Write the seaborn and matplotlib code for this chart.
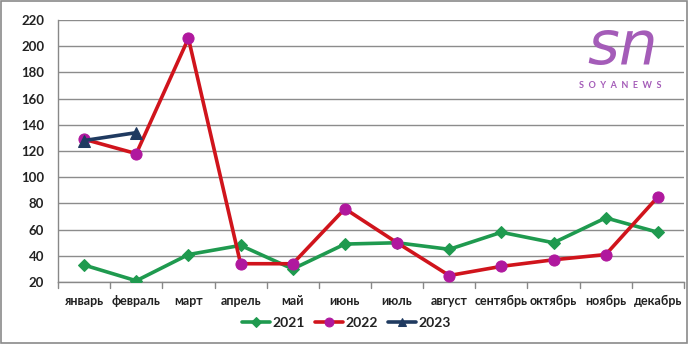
import matplotlib
matplotlib.use("Agg")
import matplotlib.pyplot as plt
from matplotlib.patches import Rectangle
import seaborn as sns
import pandas as pd

months = ["январь", "февраль", "март", "апрель", "май", "июнь",
          "июль", "август", "сентябрь", "октябрь", "ноябрь", "декабрь"]
v2021 = [33, 21, 41, 48, 30, 49, 50, 45, 58, 50, 69, 58]
v2022 = [129, 118, 206, 34, 34, 76, 50, 25, 32, 37, 41, 85]
v2023 = [128, 134]
y_ticks = [20, 40, 60, 80, 100, 120, 140, 160, 180, 200, 220]

sns.set_theme(style="white")
plt.rcParams["font.family"] = ["Lato", "DejaVu Sans"]

fig = plt.figure(figsize=(6.89, 3.44), dpi=100)
ax = fig.add_axes([0.0842, 0.180, 0.9085, 0.762])

series = [
    ("2021", v2021, "#1f9a4f", "#1f9a4f", "D", 6),
    ("2022", v2022, "#d0141c", "#b0189e", "o", 8),
    ("2023", v2023, "#1f3a60", "#1f3a60", "^", 8),
]
for name, vals, lc, mc, mk, ms in series:
    df = pd.DataFrame({"x": list(range(len(vals))), "y": vals})
    sns.lineplot(data=df, x="x", y="y", ax=ax, color=lc, linewidth=2.6,
                 marker=mk, markersize=ms, markerfacecolor=mc,
                 markeredgecolor=mc, label=name, zorder=3, legend=False)

ax.set_xlim(-0.5, len(months) - 0.5)
ax.set_ylim(20, 220)
ax.set_yticks(y_ticks)
ax.set_yticklabels([str(t) for t in y_ticks], fontsize=9.5, fontweight="bold",
                   color="#222222")
ax.set_xticks(range(len(months)))
ax.set_xticklabels(months, fontsize=9, fontweight="bold", color="#222222")
ax.tick_params(axis="x", length=0, pad=9)
ax.tick_params(axis="y", length=0, pad=10)
ax.set_xlabel("")
ax.set_ylabel("")

# category separator ticks on the bottom axis
for b in [i - 0.5 for i in range(len(months) + 1)]:
    ax.plot([b, b], [20, 15.5], color="#888888", lw=1, clip_on=False, zorder=2)

ax.yaxis.grid(True, color="#8c8c8c", linewidth=1)
ax.xaxis.grid(False)
ax.set_axisbelow(True)
for side in ["top", "right"]:
    ax.spines[side].set_visible(False)
for side in ["left", "bottom"]:
    ax.spines[side].set_color("#888888")
    ax.spines[side].set_linewidth(1)

handles, labels = ax.get_legend_handles_labels()
leg = fig.legend(handles, labels, loc="center", bbox_to_anchor=(0.503, 0.061),
                 ncol=3, frameon=False, handlelength=2.0, markerscale=0.8,
                 columnspacing=0.7, handletextpad=0.2,
                 prop={"weight": "bold", "size": 10})
for t in leg.get_texts():
    t.set_color("#222222")

# logo
fig.text(0.903, 0.815, "sn", fontsize=44, color="#a45cb8", style="italic",
         ha="center", va="baseline", family=["DejaVu Sans"])
fig.text(0.900, 0.752, "S  O  Y  A  N  E  W  S", fontsize=6.5, color="#a45cb8",
         fontweight="bold", ha="center", va="center")

# outer frame
fig.patches.append(Rectangle((0.002, 0.004), 0.995, 0.992,
                             transform=fig.transFigure, fill=False,
                             edgecolor="#8a8a8a", linewidth=1.2))

fig.savefig("out.png", dpi=100, facecolor="white")
